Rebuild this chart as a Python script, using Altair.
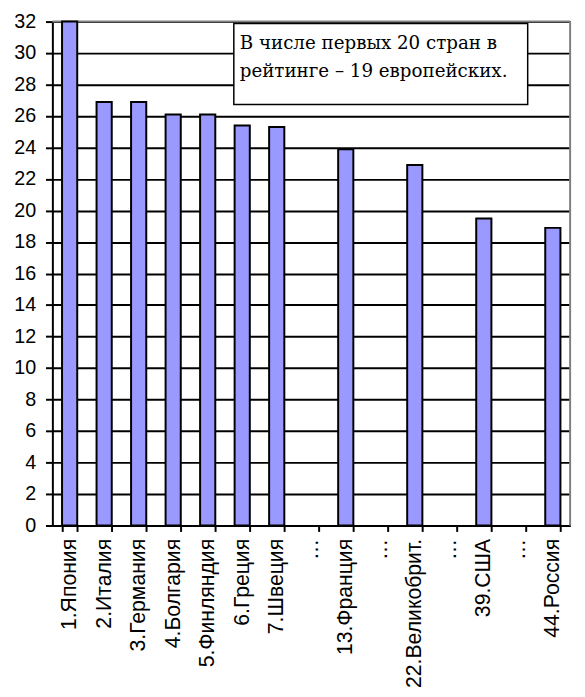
import altair as alt
import pandas as pd

categories = ["1.Япония", "2.Италия", "3.Германия", "4.Болгария", "5.Финляндия",
              "6.Греция", "7.Швеция", "…", "13.Франция", "…", "22.Великобрит.",
              "…", "39.США", "…", "44.Россия"]
values = [32, 26.9, 26.9, 26.1, 26.1, 25.4, 25.3, None, 23.9, None, 22.9,
          None, 19.5, None, 18.9]
y_ticks = list(range(0, 33, 2))
note = ["В числе первых 20 стран в", "рейтинге – 19 европейских."]

keys = [f"{i:02d}|{c}" for i, c in enumerate(categories)]
df = pd.DataFrame({"key": keys, "value": values})

W, H = 525, 511

xscale = alt.Scale(domain=keys, paddingInner=0.56, paddingOuter=0.28)

bars = alt.Chart(df).mark_bar(
    color="#9999FF", stroke="black", strokeWidth=2
).encode(
    x=alt.X("key:N", scale=xscale, sort=keys, title=None,
            axis=alt.Axis(labelAngle=-90, labelExpr="split(datum.label,'|')[1]",
                          labelFont="Liberation Sans", labelFontSize=21.5,
                          labelColor="black", labelPadding=7, labelOverlap=False,
                          tickBand="extent", tickSize=6, tickColor="black",
                          tickWidth=2, domainColor="black", domainWidth=2,
                          grid=False, labelLimit=300)),
    y=alt.Y("value:Q", scale=alt.Scale(domain=[0, 32], nice=False), title=None,
            axis=alt.Axis(values=y_ticks, labelFont="Liberation Sans",
                          labelFontSize=20, labelColor="black", labelPadding=10,
                          tickSize=7, tickColor="black", tickWidth=2,
                          domainColor="black", domainWidth=2,
                          grid=True, gridColor="black", gridWidth=2)),
)

one = pd.DataFrame({"a": [0]})
top_border = alt.Chart(one).mark_rule(color="#808080", strokeWidth=2).encode(
    x=alt.value(0), x2=alt.value(W), y=alt.value(0))
right_border = alt.Chart(one).mark_rule(color="#808080", strokeWidth=2).encode(
    x=alt.value(W), y=alt.value(0), y2=alt.value(H))

box = alt.Chart(one).mark_rect(fill="white", stroke="black", strokeWidth=1.5).encode(
    x=alt.value(184), x2=alt.value(482), y=alt.value(2), y2=alt.value(84))
txt = alt.Chart(one).mark_text(
    align="left", baseline="alphabetic",
    font="DejaVu Serif", fontSize=18.5,
    lineHeight=28, color="black"
).encode(x=alt.value(190), y=alt.value(28), text=alt.value(note))

chart = alt.layer(top_border, right_border, bars, box, txt).properties(
    width=W, height=H,
    autosize=alt.AutoSizeParams(type="none"),
    padding={"left": 45, "top": 9, "right": 7, "bottom": 160},
).configure_view(stroke=None).configure(background="white")

chart.save("out.html", embed_options={"renderer": "svg", "actions": False})
